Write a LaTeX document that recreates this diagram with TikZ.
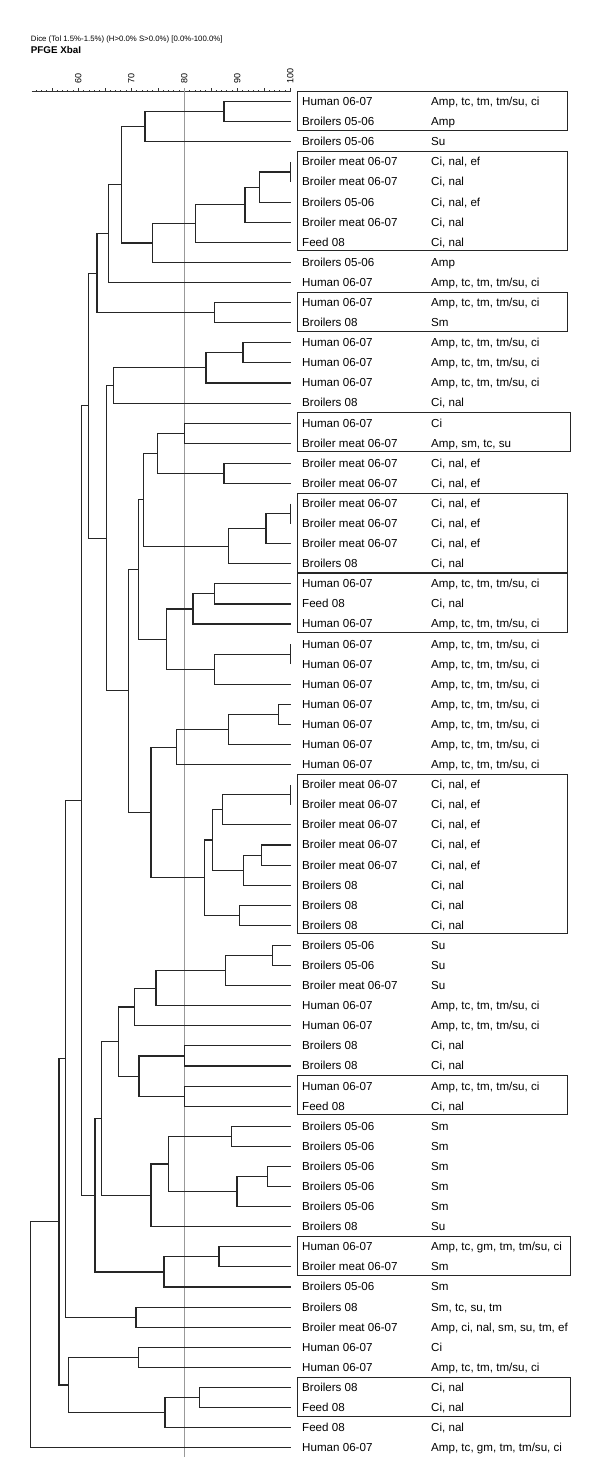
\documentclass[tikz,border=0pt]{standalone}
\usepackage{fontspec}
\setmainfont{Liberation Sans}
\usetikzlibrary{calc}
\tikzset{
  tree/.style={line width=1.1pt, draw=black!85},
  lbl/.style={anchor=base west, inner sep=0pt, font=\fontsize{11.6}{13}\selectfont},
  grp/.style={line width=0.9pt, draw=black!85},
  scaletick/.style={line width=0.6pt, draw=black!80},
  cutoff/.style={line width=0.8pt, draw=black!40},
}
\newcommand{\clade}[4]{%
  \path let \p1=(#3), \p2=(#4) in (#2pt,{0.5*(\y1+\y2)}) coordinate (#1);
  \draw[tree] (#3) -| (#1) |- (#4);}
\newcommand{\strainbox}[3]{%
  \draw[grp] ([shift={(7.2pt,10.5pt)}]leaf#1) rectangle ([shift={(#3pt,-8.5pt)}]leaf#2);}
\begin{document}
\begin{tikzpicture}[x=1pt, y=-1pt]
\useasboundingbox (0,0) rectangle (600,1464);

\node [anchor=west, inner sep=0pt, font=\fontsize{7.8}{9}\selectfont] (method) at (30.7,39) {Dice (Tol 1.5\%-1.5\%) (H>0.0\% S>0.0\%) [0.0\%-100.0\%]};
\node [anchor=west, inner sep=0pt, font=\bfseries\fontsize{9.8}{11}\selectfont] (enzyme) at (30.7,50.3) {PFGE XbaI};

\draw [scaletick] (31.7,91.7) -- (290.3,91.7);
\foreach \v in {52,...,100} {
  \pgfmathsetmacro{\h}{mod(\v,5)==0 ? 4 : 2}
  \draw [scaletick] ({290.3-(100-\v)*5.3},91.7) -- ++(0,-\h);
}
\foreach \v in {60,70,80,90,100}
  \node [rotate=90, anchor=west, inner sep=0pt, font=\fontsize{9}{10}\selectfont] (tick\v) at ({290.3-(100-\v)*5.3},84) {\v};

\draw [cutoff] (184.3,88) -- (184.3,1456.7);

\foreach \src/\res [count=\i] in {
Human 06-07/{Amp, tc, tm, tm/su, ci},
Broilers 05-06/Amp,
Broilers 05-06/Su,
Broiler meat 06-07/{Ci, nal, ef},
Broiler meat 06-07/{Ci, nal},
Broilers 05-06/{Ci, nal, ef},
Broiler meat 06-07/{Ci, nal},
Feed 08/{Ci, nal},
Broilers 05-06/Amp,
Human 06-07/{Amp, tc, tm, tm/su, ci},
Human 06-07/{Amp, tc, tm, tm/su, ci},
Broilers 08/Sm,
Human 06-07/{Amp, tc, tm, tm/su, ci},
Human 06-07/{Amp, tc, tm, tm/su, ci},
Human 06-07/{Amp, tc, tm, tm/su, ci},
Broilers 08/{Ci, nal},
Human 06-07/Ci,
Broiler meat 06-07/{Amp, sm, tc, su},
Broiler meat 06-07/{Ci, nal, ef},
Broiler meat 06-07/{Ci, nal, ef},
Broiler meat 06-07/{Ci, nal, ef},
Broiler meat 06-07/{Ci, nal, ef},
Broiler meat 06-07/{Ci, nal, ef},
Broilers 08/{Ci, nal},
Human 06-07/{Amp, tc, tm, tm/su, ci},
Feed 08/{Ci, nal},
Human 06-07/{Amp, tc, tm, tm/su, ci},
Human 06-07/{Amp, tc, tm, tm/su, ci},
Human 06-07/{Amp, tc, tm, tm/su, ci},
Human 06-07/{Amp, tc, tm, tm/su, ci},
Human 06-07/{Amp, tc, tm, tm/su, ci},
Human 06-07/{Amp, tc, tm, tm/su, ci},
Human 06-07/{Amp, tc, tm, tm/su, ci},
Human 06-07/{Amp, tc, tm, tm/su, ci},
Broiler meat 06-07/{Ci, nal, ef},
Broiler meat 06-07/{Ci, nal, ef},
Broiler meat 06-07/{Ci, nal, ef},
Broiler meat 06-07/{Ci, nal, ef},
Broiler meat 06-07/{Ci, nal, ef},
Broilers 08/{Ci, nal},
Broilers 08/{Ci, nal},
Broilers 08/{Ci, nal},
Broilers 05-06/Su,
Broilers 05-06/Su,
Broiler meat 06-07/Su,
Human 06-07/{Amp, tc, tm, tm/su, ci},
Human 06-07/{Amp, tc, tm, tm/su, ci},
Broilers 08/{Ci, nal},
Broilers 08/{Ci, nal},
Human 06-07/{Amp, tc, tm, tm/su, ci},
Feed 08/{Ci, nal},
Broilers 05-06/Sm,
Broilers 05-06/Sm,
Broilers 05-06/Sm,
Broilers 05-06/Sm,
Broilers 05-06/Sm,
Broilers 08/Su,
Human 06-07/{Amp, tc, gm, tm, tm/su, ci},
Broiler meat 06-07/Sm,
Broilers 05-06/Sm,
Broilers 08/{Sm, tc, su, tm},
Broiler meat 06-07/{Amp, ci, nal, sm, su, tm, ef},
Human 06-07/Ci,
Human 06-07/{Amp, tc, tm, tm/su, ci},
Broilers 08/{Ci, nal},
Feed 08/{Ci, nal},
Feed 08/{Ci, nal},
Human 06-07/{Amp, tc, gm, tm, tm/su, ci}} {
  \coordinate (leaf\i) at (290.5,{101.7+(\i-1)*20.09});
  \node [lbl] (src\i) at (302,{105.6+(\i-1)*20.09}) {\src};
  \node [lbl] (res\i) at (431,{105.6+(\i-1)*20.09}) {\res};
}

\clade{n1}{224.0}{leaf1}{leaf2}
\clade{n2}{145.0}{n1}{leaf3}
\clade{n3}{290.5}{leaf4}{leaf5}
\clade{n4}{259.7}{n3}{leaf6}
\clade{n5}{245.0}{n4}{leaf7}
\clade{n6}{195.7}{n5}{leaf8}
\clade{n7}{152.3}{n6}{leaf9}
\clade{n8}{121.7}{n2}{n7}
\clade{n9}{108.7}{n8}{leaf10}
\clade{n10}{214.7}{leaf11}{leaf12}
\clade{n11}{97.0}{n9}{n10}
\clade{n12}{243.0}{leaf13}{leaf14}
\clade{n13}{206.0}{n12}{leaf15}
\clade{n14}{113.3}{n13}{leaf16}
\clade{n15}{184.3}{leaf17}{leaf18}
\clade{n16}{224.0}{leaf19}{leaf20}
\clade{n17}{157.3}{n15}{n16}
\clade{n18}{290.5}{leaf21}{leaf22}
\clade{n19}{266.0}{n18}{leaf23}
\clade{n20}{228.7}{n19}{leaf24}
\clade{n21}{143.7}{n17}{n20}
\clade{n22}{214.7}{leaf25}{leaf26}
\clade{n23}{193.0}{n22}{leaf27}
\clade{n24}{290.5}{leaf28}{leaf29}
\clade{n25}{214.7}{n24}{leaf30}
\clade{n26}{166.7}{n23}{n25}
\clade{n27}{138.3}{n21}{n26}
\clade{n28}{278.7}{leaf31}{leaf32}
\clade{n29}{228.7}{n28}{leaf33}
\clade{n30}{176.7}{n29}{leaf34}
\clade{n31}{290.5}{leaf35}{leaf36}
\clade{n32}{222.3}{n31}{leaf37}
\clade{n33}{261.3}{leaf38}{leaf39}
\clade{n34}{243.3}{n33}{leaf40}
\clade{n35}{212.7}{n32}{n34}
\clade{n36}{239.3}{leaf41}{leaf42}
\clade{n37}{204.3}{n35}{n36}
\clade{n38}{151.0}{n30}{n37}
\clade{n39}{128.3}{n27}{n38}
\clade{n40}{106.7}{n14}{n39}
\clade{n41}{88.7}{n11}{n40}
\clade{n42}{272.7}{leaf43}{leaf44}
\clade{n43}{225.7}{n42}{leaf45}
\clade{n44}{156.0}{n43}{leaf46}
\clade{n45}{134.7}{n44}{leaf47}
\clade{n46}{184.3}{leaf48}{leaf49}
\clade{n47}{184.3}{leaf50}{leaf51}
\clade{n48}{139.0}{n46}{n47}
\clade{n49}{118.7}{n45}{n48}
\clade{n50}{231.7}{leaf52}{leaf53}
\clade{n51}{267.7}{leaf54}{leaf55}
\clade{n52}{237.0}{n51}{leaf56}
\clade{n53}{168.7}{n50}{n52}
\clade{n54}{151.0}{n53}{leaf57}
\clade{n55}{101.3}{n49}{n54}
\clade{n56}{219.0}{leaf58}{leaf59}
\clade{n57}{164.0}{n56}{leaf60}
\clade{n58}{95.0}{n55}{n57}
\clade{n59}{81.3}{n41}{n58}
\clade{n60}{136.0}{leaf61}{leaf62}
\clade{n61}{65.7}{n59}{n60}
\clade{n62}{138.3}{leaf63}{leaf64}
\clade{n63}{199.3}{leaf65}{leaf66}
\clade{n64}{165.0}{n63}{leaf67}
\clade{n65}{68.7}{n62}{n64}
\clade{n66}{59.0}{n61}{n65}
\clade{n67}{30.3}{n66}{leaf68}

\strainbox{1}{2}{277}
\strainbox{4}{8}{277}
\strainbox{11}{12}{277}
\strainbox{17}{18}{280}
\strainbox{21}{24}{277}
\strainbox{25}{27}{277}
\strainbox{35}{42}{277}
\strainbox{50}{51}{277}
\strainbox{58}{59}{280}
\strainbox{65}{66}{280}
\end{tikzpicture}
\end{document}
